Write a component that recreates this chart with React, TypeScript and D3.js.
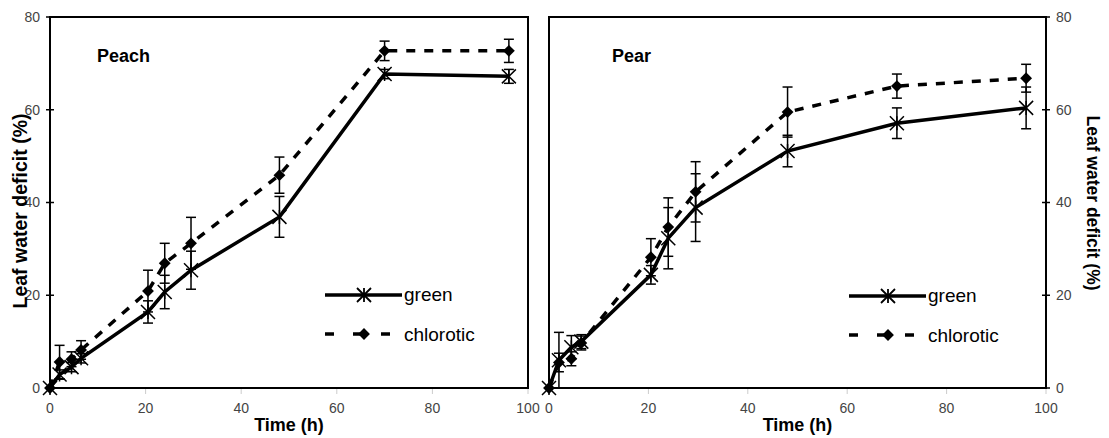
import React from "react";
import * as d3 from "d3";

// sampling times (h), same for both panels
const times = [0, 2, 4.5, 6.5, 20.5, 24, 29.5, 48, 70, 96];

const peachGreen = [0, 2.9, 4.5, 6.4, 16.4, 20.7, 25.4, 36.9, 67.7, 67.2];
const peachGreenErr = [0, 1, 1, 1, 2.4, 3.6, 4.1, 4.4, 1, 1.5];
const peachChlorotic = [0, 5.6, 6.2, 8.2, 20.9, 26.9, 31.2, 45.9, 72.7, 72.7];
const peachChloroticErr = [0, 3.6, 1.6, 2.0, 4.5, 4.3, 5.6, 3.9, 2.1, 2.5];

const pearGreen = [0, 6.0, 8.8, 10.0, 24.4, 32.3, 38.9, 51.1, 57.1, 60.4];
const pearGreenErr = [0, 6, 2.5, 1.5, 2, 6.6, 7.3, 3.4, 3.3, 4.5];
const pearChlorotic = [0, 5.5, 6.3, 9.7, 28.2, 34.7, 42.3, 59.5, 65.1, 66.8];
const pearChloroticErr = [0, 2, 1.5, 1.5, 4, 6.3, 6.5, 5.4, 2.6, 3];

const xTicks = [0, 20, 40, 60, 80, 100];
const yTicks = [0, 20, 40, 60, 80];
const seriesNames = ["green", "chlorotic"];
const xTitle = "Time (h)";
const yTitle = "Leaf water deficit (%)";

const FONT = "'Liberation Sans', Arial, Helvetica, sans-serif";
const W = 1109;
const H = 438;

type Pt = { t: number; v: number; e: number };

const zip = (vals: number[], errs: number[]): Pt[] =>
  times.map((t, i) => ({ t, v: vals[i], e: errs[i] }));

// Excel "star" marker: X with a vertical stroke
const starPath = (cx: number, cy: number, r = 7) => {
  const p = d3.path();
  p.moveTo(cx - r, cy - r); p.lineTo(cx + r, cy + r);
  p.moveTo(cx - r, cy + r); p.lineTo(cx + r, cy - r);
  p.moveTo(cx, cy - r); p.lineTo(cx, cy + r);
  return p.toString();
};
const diamond = d3.symbol().type(d3.symbolSquare).size(70)();

function Panel(props: {
  name: string;
  green: Pt[];
  chlorotic: Pt[];
  x0: number;
  x1: number;
  axisRight: boolean;
  labelX: number;
  legendX: number;
  legendY: number;
  titleSize: number;
}) {
  const { name, green, chlorotic, x0, x1, axisRight, labelX, legendX, legendY, titleSize } = props;
  const x = d3.scaleLinear().domain([0, 100]).range([x0, x1]);
  const y = d3.scaleLinear().domain([0, 80]).range([388, 17]);
  const line = d3.line<Pt>().x((d) => x(d.t)).y((d) => y(d.v));
  const axX = axisRight ? x1 : x0;

  const errBars = (data: Pt[]) =>
    data.filter((d) => d.e > 0).map((d, i) => (
      <g key={i} stroke="#000" strokeWidth={1.5}>
        <line x1={x(d.t)} x2={x(d.t)} y1={y(d.v - d.e)} y2={y(d.v + d.e)} />
        <line x1={x(d.t) - 5} x2={x(d.t) + 5} y1={y(d.v - d.e)} y2={y(d.v - d.e)} />
        <line x1={x(d.t) - 5} x2={x(d.t) + 5} y1={y(d.v + d.e)} y2={y(d.v + d.e)} />
      </g>
    ));

  const cx = (x0 + x1) / 2;
  return (
    <g>
      {/* x ticks */}
      {xTicks.map((t) => (
        <g key={t}>
          <line x1={x(t)} x2={x(t)} y1={389} y2={394} stroke="#ccc" strokeWidth={1} />
          <text x={x(t)} y={413} textAnchor="middle" fontSize={14} fill="#444">{t}</text>
        </g>
      ))}
      {/* y ticks on the value axis */}
      {yTicks.map((t) => (
        <g key={t}>
          <line x1={axX - 4} x2={axX + 4} y1={y(t)} y2={y(t)} stroke="#000" strokeWidth={1.5} />
          <text
            x={axisRight ? axX + 10 : axX - 10}
            y={y(t)}
            dy="0.35em"
            textAnchor={axisRight ? "start" : "end"}
            fontSize={14}
            fill="#444"
          >
            {t}
          </text>
        </g>
      ))}
      <rect x={x0} y={17} width={x1 - x0} height={388 - 17} fill="none" stroke="#000" strokeWidth={2} />

      <text x={cx} y={431} textAnchor="middle" fontSize={18} fontWeight="bold">{xTitle}</text>
      {axisRight ? (
        <text transform={`translate(1093,203) rotate(90)`} textAnchor="middle" dy="0.35em" fontSize={titleSize} fontWeight="bold">{yTitle}</text>
      ) : (
        <text transform={`translate(20,211) rotate(-90)`} textAnchor="middle" dy="0.35em" fontSize={titleSize} fontWeight="bold">{yTitle}</text>
      )}
      <text x={labelX} y={62} fontSize={18} fontWeight="bold">{name}</text>

      {/* lines */}
      <path d={line(chlorotic) || ""} fill="none" stroke="#000" strokeWidth={3.5} strokeDasharray="9,9" />
      <path d={line(green) || ""} fill="none" stroke="#000" strokeWidth={3.5} />
      {errBars(chlorotic)}
      {errBars(green)}
      {chlorotic.map((d, i) => (
        <path key={i} d={diamond} transform={`translate(${x(d.t)},${y(d.v)}) rotate(45)`} fill="#000" />
      ))}
      {green.map((d, i) => (
        <path key={i} d={starPath(x(d.t), y(d.v))} stroke="#000" strokeWidth={1.5} fill="none" />
      ))}

      {/* legend */}
      <line x1={legendX} x2={legendX + 77} y1={legendY} y2={legendY} stroke="#000" strokeWidth={3.5} />
      <path d={starPath(legendX + 39, legendY)} stroke="#000" strokeWidth={1.8} fill="#fff" />
      <text x={legendX + 79} y={legendY + 6} fontSize={19}>{seriesNames[0]}</text>
      <line x1={legendX} x2={legendX + 66} y1={legendY + 39} y2={legendY + 39} stroke="#000" strokeWidth={3.5} strokeDasharray="9,19" />
      <path d={diamond} transform={`translate(${legendX + 39},${legendY + 39}) rotate(45)`} fill="#000" />
      <text x={legendX + 79} y={legendY + 46} fontSize={19}>{seriesNames[1]}</text>
    </g>
  );
}

export default function App() {
  return (
    <svg
      width={W}
      height={H}
      style={{ position: "absolute", left: 0, top: 0, background: "#fff" }}
      fontFamily={FONT}
    >
      <Panel
        name="Peach"
        green={zip(peachGreen, peachGreenErr)}
        chlorotic={zip(peachChlorotic, peachChloroticErr)}
        x0={50}
        x1={528}
        axisRight={false}
        labelX={97}
        legendX={325}
        legendY={295}
        titleSize={19.5}
      />
      <Panel
        name="Pear"
        green={zip(pearGreen, pearGreenErr)}
        chlorotic={zip(pearChlorotic, pearChloroticErr)}
        x0={549}
        x1={1046}
        axisRight={true}
        labelX={612}
        legendX={849}
        legendY={296}
        titleSize={17.5}
      />
    </svg>
  );
}
